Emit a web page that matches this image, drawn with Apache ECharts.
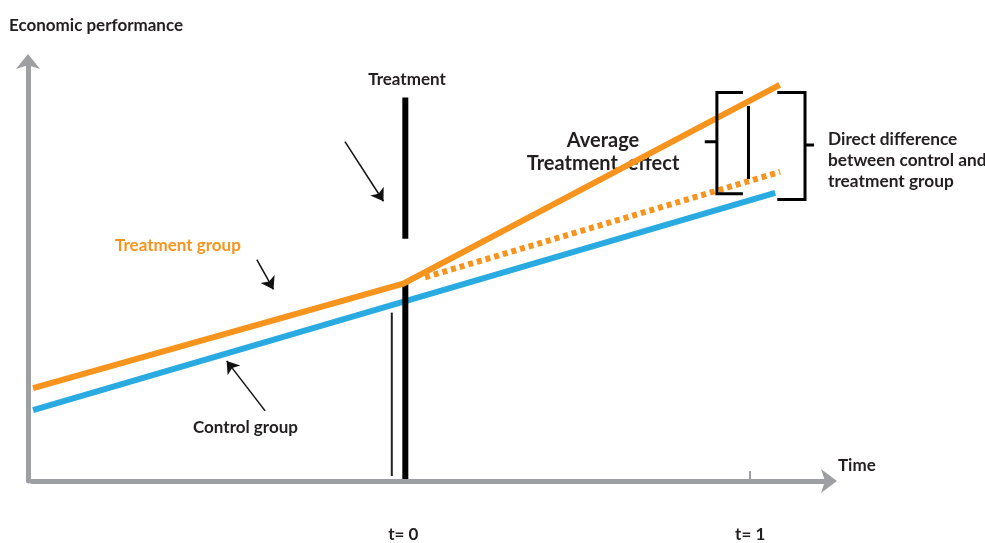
<!DOCTYPE html>
<html>
<head>
<meta charset="utf-8">
<script src="https://cdn.jsdelivr.net/npm/echarts@6/dist/echarts.min.js"></script>
<style>
html,body{margin:0;padding:0;background:#fff;}
#chart{width:985px;height:543px;}
</style>
</head>
<body>
<div id="chart"></div>
<script>
// ---- data (time in periods, performance in arbitrary units) ----
const timeTreatment = [-1.067, 0, 1.085];
const perfTreatment = [22.1, 47.0, 94.3];
const timeControl = [-1.067, 1.072];
const perfControl = [16.9, 68.6];
const timeCounterfactual = [0.063, 1.086];
const perfCounterfactual = [48.5, 73.6];
// treatment marker at t = 0 (thick bar, broken around the lines) and thin guide line
const treatmentBarTime = [0.006, 0.006];
const treatmentBarUpper = [91.3, 57.7];
const treatmentBarLower = [47.3, 0.5];
const guideTime = [-0.033, -0.033];
const guidePerf = [40.1, 1.2];
// brackets at t = 1
const ateBracketTime = [0.979, 0.904, 0.904, 0.979];
const ateBracketPerf = [92.5, 92.5, 68.4, 68.4];
const ateTickTime = [0.869, 0.904];
const ateTickPerf = [80.8, 80.8];
const ateInnerTime = [0.995, 0.995];
const ateInnerPerf = [89.3, 71.9];
const diffBracketTime = [1.078, 1.158, 1.158, 1.078];
const diffBracketPerf = [92.5, 92.5, 67.0, 67.0];
const diffTickTime = [1.158, 1.184];
const diffTickPerf = [80.0, 80.0];
// annotation pointers [tailTime, tailPerf, tipTime, tipPerf]
const pointerTreatment = [-0.168, 80.8, -0.057, 66.6];
const pointerTreatmentGroup = [-0.422, 52.7, -0.374, 45.6];
const pointerControlGroup = [-0.398, 16.7, -0.509, 28.6];
// x tick labels
const tickValues = [0, 1];
const tickLabels = ['t= 0', 't= 1'];

const ORANGE = '#f7941d';
const BLUE = '#29abe2';
const GRAY = '#9d9fa2';
const INK = '#231f20';
const FONT = 'Lato';

const zip = (xs, ys) => xs.map((x, i) => [x, ys[i]]);
const pointer = p => ({coords: [[p[0], p[1]], [p[2], p[3]]]});

const chart = echarts.init(document.getElementById('chart'), null, {renderer: 'canvas'});
chart.setOption({
  animation: false,
  backgroundColor: '#ffffff',
  grid: {left: 32, right: 155, top: 61, bottom: 61},
  xAxis: {
    type: 'value', min: -1.07, max: 1.23,
    splitLine: {show: false},
    axisLine: {show: true, onZero: false, lineStyle: {color: GRAY, width: 5}, symbol: ['none', 'arrow'], symbolSize: [18, 16], symbolOffset: [0, 7]},
    axisTick: {show: true, inside: true, length: 10, lineStyle: {color: GRAY, width: 2}, customValues: [1]},
    axisLabel: {
      show: true, customValues: tickValues, margin: 45,
      formatter: v => tickLabels[tickValues.indexOf(v)] || '',
      color: INK, fontFamily: FONT, fontWeight: 'bold', fontSize: 17
    }
  },
  yAxis: {
    type: 'value', min: 0, max: 100, offset: 4,
    splitLine: {show: false},
    axisLine: {show: true, onZero: false, lineStyle: {color: GRAY, width: 5}, symbol: ['none', 'arrow'], symbolSize: [18, 15], symbolOffset: [0, 7]},
    axisTick: {show: false},
    axisLabel: {show: false}
  },
  series: [
    {type: 'line', name: 'Control group', data: zip(timeControl, perfControl), symbol: 'none',
     lineStyle: {color: BLUE, width: 6}, z: 2},
    {type: 'lines', coordinateSystem: 'cartesian2d', polyline: true, z: 3,
     lineStyle: {color: '#000', width: 6, opacity: 1},
     data: [{coords: zip(treatmentBarTime, treatmentBarUpper)}, {coords: zip(treatmentBarTime, treatmentBarLower)}]},
    {type: 'lines', coordinateSystem: 'cartesian2d', polyline: true, z: 3,
     lineStyle: {color: '#231f20', width: 2, opacity: 1},
     data: [{coords: zip(guideTime, guidePerf)}]},
    {type: 'line', name: 'Counterfactual', data: zip(timeCounterfactual, perfCounterfactual), symbol: 'none',
     lineStyle: {color: ORANGE, width: 6, type: [5, 4], cap: 'butt'}, z: 4},
    {type: 'line', name: 'Treatment group', data: zip(timeTreatment, perfTreatment), symbol: 'none',
     lineStyle: {color: ORANGE, width: 6, join: 'miter'}, z: 5},
    {type: 'lines', coordinateSystem: 'cartesian2d', polyline: true, z: 6,
     lineStyle: {color: '#000', width: 3, opacity: 1},
     data: [
       {coords: zip(ateBracketTime, ateBracketPerf)},
       {coords: zip(ateTickTime, ateTickPerf)},
       {coords: zip(ateInnerTime, ateInnerPerf)},
       {coords: zip(diffBracketTime, diffBracketPerf)},
       {coords: zip(diffTickTime, diffTickPerf)}
     ]},
    {type: 'lines', coordinateSystem: 'cartesian2d', z: 6,
     symbol: ['none', 'arrow'], symbolSize: [10, 12],
     lineStyle: {color: '#111', width: 1.5, opacity: 1},
     data: [pointer(pointerTreatment), pointer(pointerTreatmentGroup), pointer(pointerControlGroup)]}
  ],
  graphic: [
    {type: 'text', x: 9, y: 26, style: {text: 'Economic performance', font: `bold 17px ${FONT}`, fill: INK, textVerticalAlign: 'middle'}},
    {type: 'text', x: 407, y: 80, style: {text: 'Treatment', font: `bold 17px ${FONT}`, fill: INK, textAlign: 'center', textVerticalAlign: 'middle'}},
    {type: 'text', x: 115, y: 246, style: {text: 'Treatment group', font: `bold 17px ${FONT}`, fill: ORANGE, textVerticalAlign: 'middle'}},
    {type: 'text', x: 193, y: 428, style: {text: 'Control group', font: `bold 17px ${FONT}`, fill: INK, textVerticalAlign: 'middle'}},
    {type: 'text', x: 603, y: 141, style: {text: 'Average', font: `bold 20px ${FONT}`, fill: INK, textAlign: 'center', textVerticalAlign: 'middle'}},
    {type: 'text', x: 603, y: 164, style: {text: 'Treatment  effect', font: `bold 20px ${FONT}`, fill: INK, textAlign: 'center', textVerticalAlign: 'middle'}},
    {type: 'text', x: 828, y: 139, style: {text: 'Direct difference', font: `bold 17.3px ${FONT}`, fill: INK, textVerticalAlign: 'middle'}},
    {type: 'text', x: 828, y: 160, style: {text: 'between control and', font: `bold 17.3px ${FONT}`, fill: INK, textVerticalAlign: 'middle'}},
    {type: 'text', x: 828, y: 181, style: {text: 'treatment group', font: `bold 17.3px ${FONT}`, fill: INK, textVerticalAlign: 'middle'}},
    {type: 'text', x: 838, y: 466, style: {text: 'Time', font: `bold 17px ${FONT}`, fill: INK, textVerticalAlign: 'middle'}}
  ]
});
</script>
</body>
</html>
